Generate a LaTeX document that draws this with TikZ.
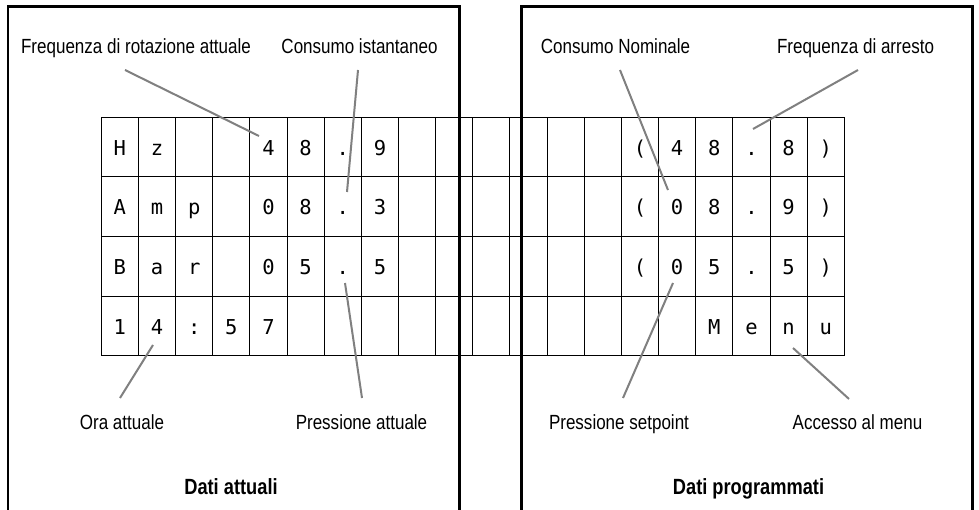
\documentclass[tikz,border=0pt]{standalone}
\usepackage{fontspec}
\newfontfamily\labfont[FakeStretch=0.83]{Liberation Sans}
\newfontfamily\lcdfont{DejaVu Sans Mono}
\definecolor{leadgray}{RGB}{128,128,128}
\begin{document}
\begin{tikzpicture}[x=1pt,y=-1pt,
  frame/.style={line width=2.2pt},
  gridline/.style={line width=1pt},
  lcd/.style={font=\lcdfont\fontsize{20.5}{21}\selectfont, anchor=base, inner sep=0pt},
  lab/.style={font=\labfont\fontsize{20.5}{21}\selectfont, anchor=base, inner sep=0pt},
  paneltitle/.style={font=\labfont\bfseries\fontsize{22}{22}\selectfont, anchor=base, inner sep=0pt},
  leader/.style={draw=leadgray, line width=2pt}]
\useasboundingbox (0,0) rectangle (979,510);
\fill[white] (0,0) rectangle (979,510);
\def\gx{101.3}\def\gw{37.15}\def\gy{117.3}\def\gh{59.67}
% LCD grid
\foreach \i in {0,...,20} \draw[gridline] ({\gx+\i*\gw},\gy) -- ({\gx+\i*\gw},{\gy+4*\gh});
\foreach \j in {0,...,4} \draw[gridline] (\gx,{\gy+\j*\gh}) -- ({\gx+20*\gw},{\gy+\j*\gh});
% frames
\draw[frame] (8,510) -- (8,6.5) -- (459.5,6.5) -- (459.5,510);
\draw[frame] (521.5,510) -- (521.5,6.5) -- (972.5,6.5) -- (972.5,510);
% characters
\foreach \c/\t in {1/H,2/z,5/4,6/8,7/.,8/9,15/{(},16/4,17/8,18/.,19/8,20/{)}}
  \node[lcd] (ra\c) at ({\gx+(\c-0.5)*\gw},{\gy+38}) {\t};
\foreach \c/\t in {1/A,2/m,3/p,5/0,6/8,7/.,8/3,15/{(},16/0,17/8,18/.,19/9,20/{)}}
  \node[lcd] (rb\c) at ({\gx+(\c-0.5)*\gw},{\gy+\gh+38}) {\t};
\foreach \c/\t in {1/B,2/a,3/r,5/0,6/5,7/.,8/5,15/{(},16/0,17/5,18/.,19/5,20/{)}}
  \node[lcd] (rc\c) at ({\gx+(\c-0.5)*\gw},{\gy+2*\gh+38}) {\t};
\foreach \c/\t in {1/1,2/4,3/:,4/5,5/7,17/M,18/e,19/n,20/u}
  \node[lcd] (rd\c) at ({\gx+(\c-0.5)*\gw},{\gy+3*\gh+38}) {\t};
% labels
\node[lab] (freqrot) at (136,53.5) {Frequenza di rotazione attuale};
\node[lab] (consist) at (359.5,53.5) {Consumo istantaneo};
\node[lab] (consnom) at (615.5,53.5) {Consumo Nominale};
\node[lab] (freqarr) at (855.5,53.5) {Frequenza di arresto};
\node[lab] (ora) at (122,429) {Ora attuale};
\node[lab] (pressatt) at (361.5,429) {Pressione attuale};
\node[lab] (pressset) at (619,429) {Pressione setpoint};
\node[lab] (menu) at (857.5,429) {Accesso al menu};
\node[paneltitle] (datiatt) at (231,494) {Dati attuali};
\node[paneltitle] (datiprog) at (748.5,494) {Dati programmati};
% leader lines
\coordinate (l1a) at (125,70);  \coordinate (l1b) at (259,136);
\coordinate (l2a) at (358,70);  \coordinate (l2b) at (347,192);
\coordinate (l3a) at (620,70);  \coordinate (l3b) at (668,190);
\coordinate (l4a) at (858,70);  \coordinate (l4b) at (753,129);
\coordinate (l5a) at (153,345); \coordinate (l5b) at (120,398);
\coordinate (l6a) at (345,283); \coordinate (l6b) at (362,398);
\coordinate (l7a) at (673,283); \coordinate (l7b) at (623,398);
\coordinate (l8a) at (793,348); \coordinate (l8b) at (849,399);
\foreach \k in {1,...,8} \draw[leader] (l\k a) -- (l\k b);
\end{tikzpicture}
\end{document}
